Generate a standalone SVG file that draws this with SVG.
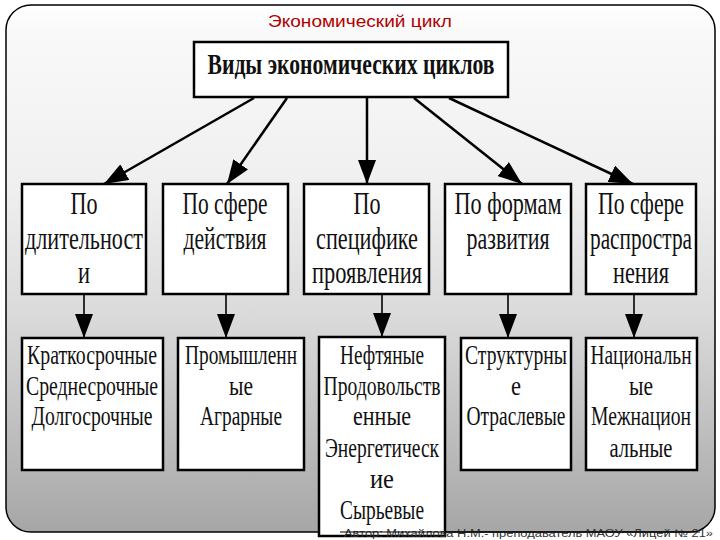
<svg xmlns="http://www.w3.org/2000/svg" width="720" height="540" viewBox="0 0 720 540">
<defs>
<linearGradient id="bg" x1="0" y1="0" x2="0" y2="1">
<stop offset="0" stop-color="#ffffff"/>
<stop offset="0.05" stop-color="#f9f9f9"/>
<stop offset="0.35" stop-color="#efefef"/>
<stop offset="0.6" stop-color="#d9d9d9"/>
<stop offset="1" stop-color="#a6a6a6"/>
</linearGradient>
<marker id="ah" markerWidth="24" markerHeight="18" refX="24" refY="9" orient="auto" markerUnits="userSpaceOnUse">
<path d="M0,0 L24,9 L0,18 Z" fill="#000"/>
</marker>
</defs>
<style>
.box{fill:#fff;stroke:#000;stroke-width:2.5}
.t2{font-family:"Liberation Serif",serif;font-size:32px;fill:#111;text-anchor:middle}
.t3{font-family:"Liberation Serif",serif;font-size:27px;fill:#111;text-anchor:middle}
.c1{stroke:#000;stroke-width:2.5;fill:none}
.c2{stroke:#000;stroke-width:1.6;fill:none}
</style>
<rect x="6" y="5" width="709" height="527" rx="25" fill="url(#bg)" stroke="#000" stroke-width="1.5"/>
<text x="360" y="27" font-family="Liberation Sans, Arial, sans-serif" font-size="17" fill="#b00000" text-anchor="middle" textLength="184" lengthAdjust="spacingAndGlyphs">Экономический цикл</text>

<g id="connectors">
<line class="c1" x1="254" y1="98" x2="104" y2="184" marker-end="url(#ah)"/>
<line class="c1" x1="287" y1="98" x2="227" y2="184" marker-end="url(#ah)"/>
<line class="c1" x1="367" y1="98" x2="367" y2="184" marker-end="url(#ah)"/>
<line class="c1" x1="414" y1="98" x2="522" y2="184" marker-end="url(#ah)"/>
<line class="c1" x1="449" y1="98" x2="633" y2="184" marker-end="url(#ah)"/>
<line class="c2" x1="84" y1="295" x2="84" y2="338" marker-end="url(#ah)"/>
<line class="c2" x1="226" y1="295" x2="226" y2="338" marker-end="url(#ah)"/>
<line class="c2" x1="382" y1="295" x2="382" y2="337" marker-end="url(#ah)"/>
<line class="c2" x1="508" y1="295" x2="508" y2="338" marker-end="url(#ah)"/>
<line class="c2" x1="634" y1="295" x2="634" y2="338" marker-end="url(#ah)"/>
</g>

<g id="root">
<rect class="box" x="194" y="42" width="314" height="55"/>
<text x="351" y="74" font-family="Liberation Serif, serif" font-size="30" font-weight="bold" fill="#111" text-anchor="middle" textLength="287" lengthAdjust="spacingAndGlyphs">Виды экономических циклов</text>
</g>

<g id="n1">
<rect class="box" x="22" y="184" width="124" height="110"/>
<text class="t2" x="84" y="214" textLength="27" lengthAdjust="spacingAndGlyphs">По</text>
<text class="t2" x="84" y="249" textLength="118" lengthAdjust="spacingAndGlyphs">длительност</text>
<text class="t2" x="84" y="283" textLength="12" lengthAdjust="spacingAndGlyphs">и</text>
</g>
<g id="n2">
<rect class="box" x="163" y="184" width="125" height="110"/>
<text class="t2" x="225" y="214" textLength="85" lengthAdjust="spacingAndGlyphs">По сфере</text>
<text class="t2" x="225" y="249" textLength="83" lengthAdjust="spacingAndGlyphs">действия</text>
</g>
<g id="n3">
<rect class="box" x="304" y="184" width="125" height="110"/>
<text class="t2" x="367" y="214" textLength="27" lengthAdjust="spacingAndGlyphs">По</text>
<text class="t2" x="367" y="249" textLength="102" lengthAdjust="spacingAndGlyphs">специфике</text>
<text class="t2" x="367" y="283" textLength="110" lengthAdjust="spacingAndGlyphs">проявления</text>
</g>
<g id="n4">
<rect class="box" x="445" y="184" width="126" height="110"/>
<text class="t2" x="508" y="214" textLength="107" lengthAdjust="spacingAndGlyphs">По формам</text>
<text class="t2" x="508" y="249" textLength="83" lengthAdjust="spacingAndGlyphs">развития</text>
</g>
<g id="n5">
<rect class="box" x="586" y="184" width="110" height="110"/>
<text class="t2" x="641" y="214" textLength="86" lengthAdjust="spacingAndGlyphs">По сфере</text>
<text class="t2" x="641" y="249" textLength="102" lengthAdjust="spacingAndGlyphs">распростра</text>
<text class="t2" x="641" y="283" textLength="56" lengthAdjust="spacingAndGlyphs">нения</text>
</g>

<g id="m1">
<rect class="box" x="22" y="338" width="141" height="132"/>
<text class="t3" x="92" y="364" textLength="130" lengthAdjust="spacingAndGlyphs">Краткосрочные</text>
<text class="t3" x="92" y="395" textLength="132" lengthAdjust="spacingAndGlyphs">Среднесрочные</text>
<text class="t3" x="92" y="425" textLength="121" lengthAdjust="spacingAndGlyphs">Долгосрочные</text>
</g>
<g id="m2">
<rect class="box" x="178" y="338" width="126" height="132"/>
<text class="t3" x="241" y="364" textLength="112" lengthAdjust="spacingAndGlyphs">Промышленн</text>
<text class="t3" x="241" y="395" textLength="24" lengthAdjust="spacingAndGlyphs">ые</text>
<text class="t3" x="241" y="425" textLength="82" lengthAdjust="spacingAndGlyphs">Аграрные</text>
</g>
<g id="m3">
<rect class="box" x="319" y="337" width="126" height="199"/>
<text class="t3" x="382" y="364" textLength="84" lengthAdjust="spacingAndGlyphs">Нефтяные</text>
<text class="t3" x="382" y="395" textLength="117" lengthAdjust="spacingAndGlyphs">Продовольств</text>
<text class="t3" x="382" y="425" textLength="58" lengthAdjust="spacingAndGlyphs">енные</text>
<text class="t3" x="382" y="457" textLength="114" lengthAdjust="spacingAndGlyphs">Энергетическ</text>
<text class="t3" x="382" y="488" textLength="24" lengthAdjust="spacingAndGlyphs">ие</text>
<text class="t3" x="382" y="519" textLength="84" lengthAdjust="spacingAndGlyphs">Сырьевые</text>
</g>
<g id="m4">
<rect class="box" x="461" y="338" width="110" height="132"/>
<text class="t3" x="516" y="364" textLength="102" lengthAdjust="spacingAndGlyphs">Структурны</text>
<text class="t3" x="516" y="395" textLength="10" lengthAdjust="spacingAndGlyphs">е</text>
<text class="t3" x="516" y="425" textLength="99" lengthAdjust="spacingAndGlyphs">Отраслевые</text>
</g>
<g id="m5">
<rect class="box" x="586" y="338" width="111" height="132"/>
<text class="t3" x="641" y="364" textLength="101" lengthAdjust="spacingAndGlyphs">Национальн</text>
<text class="t3" x="641" y="395" textLength="24" lengthAdjust="spacingAndGlyphs">ые</text>
<text class="t3" x="641" y="425" textLength="100" lengthAdjust="spacingAndGlyphs">Межнацион</text>
<text class="t3" x="641" y="457" textLength="63" lengthAdjust="spacingAndGlyphs">альные</text>
</g>

<text x="344" y="537" font-family="Liberation Sans, Arial, sans-serif" font-size="11" fill="#333" textLength="369" lengthAdjust="spacingAndGlyphs">Автор: Михайлова Н.М.- преподаватель МАОУ «Лицей № 21»</text>
<line x1="340" y1="532" x2="700" y2="532" stroke="#000" stroke-width="1.2"/>
</svg>
